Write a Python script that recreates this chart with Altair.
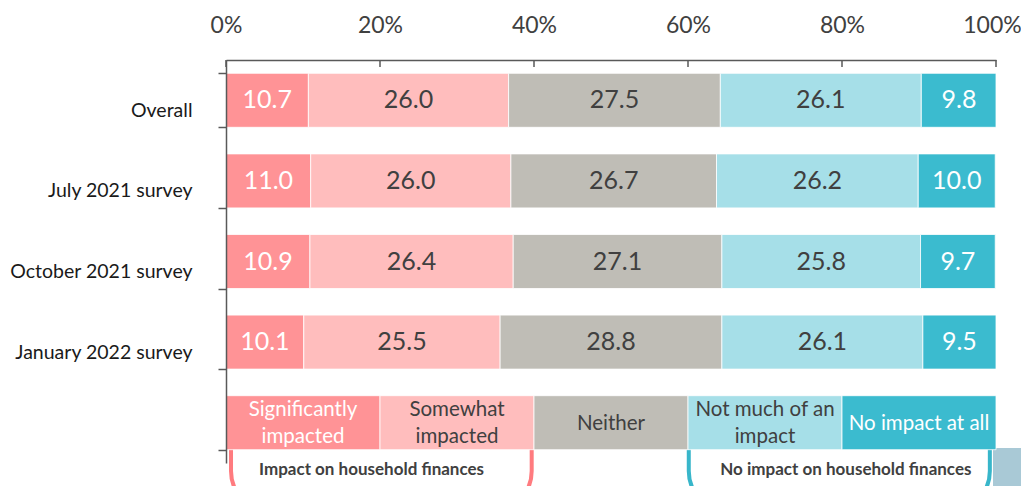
import altair as alt
import pandas as pd

# ---------------- data ----------------
rows = ["Overall", "July 2021 survey", "October 2021 survey", "January 2022 survey"]
legend_row = "legend"
categories = ["Significantly impacted", "Somewhat impacted", "Neither",
              "Not much of an impact", "No impact at all"]
significantly = [10.7, 11.0, 10.9, 10.1]
somewhat = [26.0, 26.0, 26.4, 25.5]
neither = [27.5, 26.7, 27.1, 28.8]
not_much = [26.1, 26.2, 25.8, 26.1]
no_impact = [9.8, 10.0, 9.7, 9.5]
legend_lines = [["Significantly", "impacted"], ["Somewhat", "impacted"], ["Neither"],
                ["Not much of an", "impact"], ["No impact at all"]]
legend_share = [20, 20, 20, 20, 20]
x_ticks = [0, 20, 40, 60, 80, 100]
groups = ["Impact on household finances", "No impact on household finances"]
group_start = [0.65, 60.1]
group_end = [39.7, 99.2]
group_label_x = [18.9, 80.5]

# ---------------- styles ----------------
colors = ["#FF9396", "#FFBDBD", "#BFBDB6", "#A6DFE8", "#3BBBCF"]
text_colors = ["#FFFFFF", "#404040", "#404040", "#404040", "#FFFFFF"]
group_colors = ["#FF7B7F", "#38B6CA"]
FONT = "Lato"
row_order = rows + [legend_row]

# ---------------- tables ----------------
series = [significantly, somewhat, neither, not_much, no_impact]
recs = []
for r_i, r in enumerate(rows):
    acc = 0.0
    for c_i, c in enumerate(categories):
        v = series[c_i][r_i]
        recs.append({"row": r, "cat": c, "value": v, "start": acc, "end": acc + v,
                     "mid": acc + v / 2, "label": f"{v:.1f}", "tcol": text_colors[c_i]})
        acc += v
bars = pd.DataFrame(recs)

lrecs = []
acc = 0.0
for c_i, c in enumerate(categories):
    w = legend_share[c_i]
    lrecs.append({"row": legend_row, "cat": c, "start": acc, "end": acc + w,
                  "mid": acc + w / 2, "lines": legend_lines[c_i],
                  "nlines": len(legend_lines[c_i]), "tcol": text_colors[c_i]})
    acc += w
legend_df = pd.DataFrame(lrecs)

grp_df = pd.DataFrame({"grp": groups, "start": group_start, "end": group_end,
                       "mid": group_label_x, "row": [legend_row, legend_row]})
ticks_df = pd.DataFrame({"t": x_ticks})

# ---------------- scales / axes ----------------
xscale = alt.Scale(domain=[0, 100], clamp=True, nice=False)
yscale = alt.Scale(domain=row_order, paddingInner=0.33, paddingOuter=0.165)
cscale = alt.Scale(domain=categories, range=colors)
tscale = alt.Scale(domain=["#FFFFFF", "#404040"], range=["#FFFFFF", "#404040"])

y_axis = alt.Axis(orient="left", title=None, tickBand="extent", tickSize=8,
                  labelPadding=26, labelFontSize=19.5, labelFont=FONT, labelColor="#1A1A1A",
                  labelOffset=10, labelLimit=400, domainColor="#595959", domainWidth=1.5,
                  tickColor="#595959", tickWidth=1.5, grid=False, zindex=1,
                  labelExpr="datum.value == 'legend' ? '' : datum.value")
x_axis = alt.Axis(orient="top", title=None, values=x_ticks, ticks=False, grid=False,
                  labelExpr="datum.value + '%'", labelPadding=28, labelFontSize=23,
                  labelFont=FONT, labelColor="#404040", labelBaseline="alphabetic",
                  labelFlush=False,
                  labelOffset={"condition": {"test": "datum.value === 100", "value": -4},
                               "value": 0},
                  domainColor="#595959", domainWidth=1.5, zindex=1)


def X(field):
    return alt.X(field, scale=xscale, axis=x_axis)


def Y(field):
    return alt.Y(field, scale=yscale, axis=y_axis)


# ---------------- layers ----------------
deco = alt.Chart(pd.DataFrame({"d": [0]})).mark_rect(color="#A9C9D6").encode(
    x=alt.value(767), x2=alt.value(830), y=alt.value(388), y2=alt.value(470))

brackets = alt.Chart(grp_df).mark_rect(cornerRadius=40, fill="white", strokeWidth=4).encode(
    x=X("start:Q"), x2="end:Q",
    y=alt.value(345), y2=alt.value(451),
    stroke=alt.Stroke("grp:N", scale=alt.Scale(domain=groups, range=group_colors), legend=None))

bracket_text = alt.Chart(grp_df).mark_text(font=FONT, fontSize=17, fontWeight="bold",
                                           color="#404040", baseline="middle", dy=47).encode(
    x=X("mid:Q"), y=Y("row:N"), text="grp:N")

bar_layer = alt.Chart(bars).mark_bar(stroke="white", strokeWidth=0.8).encode(
    x=X("start:Q"), x2="end:Q", y=Y("row:N"),
    color=alt.Color("cat:N", scale=cscale, legend=None))

bar_text = alt.Chart(bars).mark_text(font=FONT, fontSize=25, baseline="middle").encode(
    x=X("mid:Q"), y=Y("row:N"), text="label:N",
    color=alt.Color("tcol:N", scale=tscale, legend=None))

legend_bars = alt.Chart(legend_df).mark_bar(stroke="white", strokeWidth=0.8).encode(
    x=X("start:Q"), x2="end:Q", y=Y("row:N"),
    color=alt.Color("cat:N", scale=cscale, legend=None))

legend_text1 = alt.Chart(legend_df).transform_filter("datum.nlines == 1").mark_text(
    font=FONT, fontSize=20.5, baseline="middle", dy=1).encode(
    x=X("mid:Q"), y=Y("row:N"), text="lines",
    color=alt.Color("tcol:N", scale=tscale, legend=None))

legend_text2 = alt.Chart(legend_df).transform_filter("datum.nlines == 2").mark_text(
    font=FONT, fontSize=20.5, baseline="middle", lineHeight=27, dy=-13).encode(
    x=X("mid:Q"), y=Y("row:N"), text="lines",
    color=alt.Color("tcol:N", scale=tscale, legend=None))

x_tick_marks = alt.Chart(ticks_df).mark_rule(color="#595959", strokeWidth=1.5).encode(
    x=X("t:Q"), y=alt.value(0), y2=alt.value(7))

chart = alt.layer(deco, brackets, bracket_text, bar_layer, bar_text, legend_bars,
                  legend_text1, legend_text2, x_tick_marks).resolve_scale(
    color="independent").properties(
    width=770, height=403, autosize="none",
    padding={"left": 218, "top": 52, "right": 25, "bottom": 23},
).configure_view(stroke=None)

chart.save("out.html", embed_options={"renderer": "svg", "actions": False})
